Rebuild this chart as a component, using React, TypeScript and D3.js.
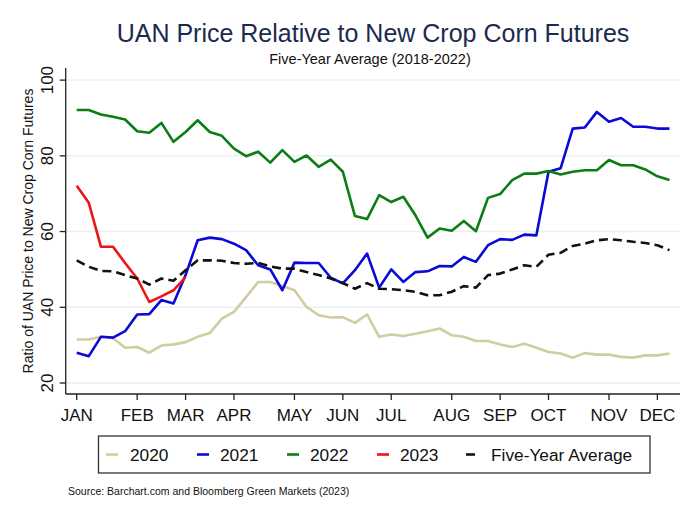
import React from "react";
import * as d3 from "d3";

const monthLabels = ["JAN", "FEB", "MAR", "APR", "MAY", "JUN", "JUL", "AUG", "SEP", "OCT", "NOV", "DEC"];
const monthWeeks = [0, 5, 9, 13, 18, 22, 26, 31, 35, 39, 44, 48];
const yTicks = [20, 40, 60, 80, 100];

const s2020 = [31.5, 31.5, 32.2, 31.9, 29.3, 29.5, 28.0, 29.9, 30.2, 30.8, 32.2, 33.2, 37.0, 38.8, 42.7, 46.7, 46.7, 45.6, 44.5, 40.1, 37.9, 37.3, 37.4, 35.9, 38.1, 32.2, 32.8, 32.4, 33.0, 33.7, 34.4, 32.6, 32.2, 31.1, 31.1, 30.2, 29.5, 30.4, 29.3, 28.2, 27.8, 26.7, 27.9, 27.5, 27.5, 26.9, 26.7, 27.3, 27.3, 27.8];
const s2021 = [28.0, 27.1, 32.2, 32.0, 33.7, 38.1, 38.2, 41.9, 41.0, 48.5, 57.7, 58.4, 58.0, 56.8, 55.1, 51.1, 50.0, 44.5, 51.8, 51.7, 51.7, 47.8, 46.3, 49.8, 54.2, 45.2, 50.0, 46.7, 49.3, 49.5, 50.9, 50.8, 53.3, 52.0, 56.4, 58.0, 57.8, 59.2, 59.0, 75.8, 76.7, 87.2, 87.5, 91.6, 89.0, 90.0, 87.7, 87.7, 87.2, 87.2];
const s2022 = [92.1, 92.1, 90.9, 90.3, 89.6, 86.5, 86.1, 88.7, 83.7, 86.3, 89.4, 86.3, 85.3, 81.9, 79.9, 81.1, 78.2, 81.5, 78.4, 80.1, 77.1, 79.0, 75.8, 64.1, 63.3, 69.6, 67.8, 69.2, 64.3, 58.4, 60.8, 60.2, 62.8, 60.1, 68.9, 69.9, 73.6, 75.3, 75.3, 76.0, 75.1, 75.8, 76.2, 76.2, 78.9, 77.5, 77.5, 76.4, 74.6, 73.6];
const s2023 = [72.1, 67.6, 56.0, 56.0, 51.7, 47.6, 41.4, 42.9, 44.5, 48.0];
const sAvg = [52.4, 50.7, 49.6, 49.5, 48.5, 47.6, 46.0, 47.6, 47.0, 49.8, 52.4, 52.4, 52.3, 51.7, 51.5, 51.7, 50.8, 50.2, 50.2, 49.3, 48.5, 47.6, 46.4, 44.9, 46.4, 44.9, 44.8, 44.5, 44.1, 43.2, 43.2, 44.1, 45.6, 45.2, 48.5, 48.9, 50.0, 51.1, 50.7, 53.9, 54.4, 56.2, 56.8, 57.7, 58.0, 57.7, 57.3, 57.0, 56.4, 55.1];

const seriesNames = ["2020", "2021", "2022", "2023", "Five-Year Average"];
const seriesData = [s2020, s2021, s2022, s2023, sAvg];
const seriesColors = ["#d0cda0", "#0a0ad8", "#0b7d12", "#ee1515", "#111111"];

const FONT = "'Liberation Sans', Arial, Helvetica, sans-serif";

export default function App() {
  const W = 700, H = 508;
  const left = 65.7, right = 680, top = 68, bottom = 394;
  const x = d3.scaleLinear().domain([-0.91, 49.87]).range([left, right]);
  const y = d3.scaleLinear().domain([17.1, 103.2]).range([bottom, top]);
  const line = d3.line<number>().x((_, i) => x(i)).y((d) => y(d));

  const legendItems = [
    { lx: 106, tx: 130 },
    { lx: 197, tx: 220 },
    { lx: 287, tx: 310 },
    { lx: 377, tx: 400 },
    { lx: 466, tx: 491 },
  ];

  return (
    <svg width={W} height={H} style={{ position: "absolute", left: 0, top: 0, background: "#fff" }} fontFamily={FONT}>
      <rect x={0} y={0} width={W} height={H} fill="#fff" />
      <text x={373} y={42} textAnchor="middle" fontSize={25} fill="#1b2a4e">
        UAN Price Relative to New Crop Corn Futures
      </text>
      <text x={370} y={64} textAnchor="middle" fontSize={14.5} fill="#111">
        Five-Year Average (2018-2022)
      </text>

      {yTicks.map((t) => (
        <line key={"g" + t} x1={left} x2={right} y1={y(t)} y2={y(t)} stroke="#eaf0f2" strokeWidth={1.5} />
      ))}

      {seriesData.map((d, i) => (
        <path
          key={seriesNames[i]}
          d={line(d) || ""}
          fill="none"
          stroke={seriesColors[i]}
          strokeWidth={2.6}
          strokeLinejoin="round"
          strokeDasharray={i === 4 ? "9 5" : undefined}
        />
      ))}

      <line x1={left} x2={left} y1={top} y2={bottom} stroke="#222" strokeWidth={1.3} />
      <line x1={left} x2={right} y1={bottom} y2={bottom} stroke="#222" strokeWidth={1.3} />
      {yTicks.map((t) => (
        <g key={"yt" + t}>
          <line x1={left - 6} x2={left} y1={y(t)} y2={y(t)} stroke="#222" strokeWidth={1.3} />
          <text
            transform={`translate(${53},${y(t)}) rotate(-90)`}
            textAnchor="middle"
            fontSize={17}
            fill="#111"
          >
            {t}
          </text>
        </g>
      ))}
      {monthWeeks.map((w, i) => (
        <g key={"xt" + i}>
          <line x1={x(w)} x2={x(w)} y1={bottom} y2={bottom + 6} stroke="#222" strokeWidth={1.3} />
          <text x={x(w)} y={421} textAnchor="middle" fontSize={17} fill="#111">
            {monthLabels[i]}
          </text>
        </g>
      ))}
      <text transform={`translate(${33},${231}) rotate(-90)`} textAnchor="middle" fontSize={14} fill="#111">
        Ratio of UAN Price to New Crop Corn Futures
      </text>

      <rect x={98.5} y={436} width={551.5} height={37} fill="#fff" stroke="#333" strokeWidth={1.3} />
      {legendItems.map((it, i) => (
        <g key={"lg" + i}>
          <line
            x1={it.lx}
            x2={it.lx + (i === 4 ? 9 : 12)}
            y1={454.5}
            y2={454.5}
            stroke={seriesColors[i]}
            strokeWidth={2.6}
          />
          <text x={it.tx} y={461} fontSize={17.3} fill="#111">
            {seriesNames[i]}
          </text>
        </g>
      ))}
      <text x={68} y={495} fontSize={10.5} fill="#111">
        Source: Barchart.com and Bloomberg Green Markets (2023)
      </text>
    </svg>
  );
}
